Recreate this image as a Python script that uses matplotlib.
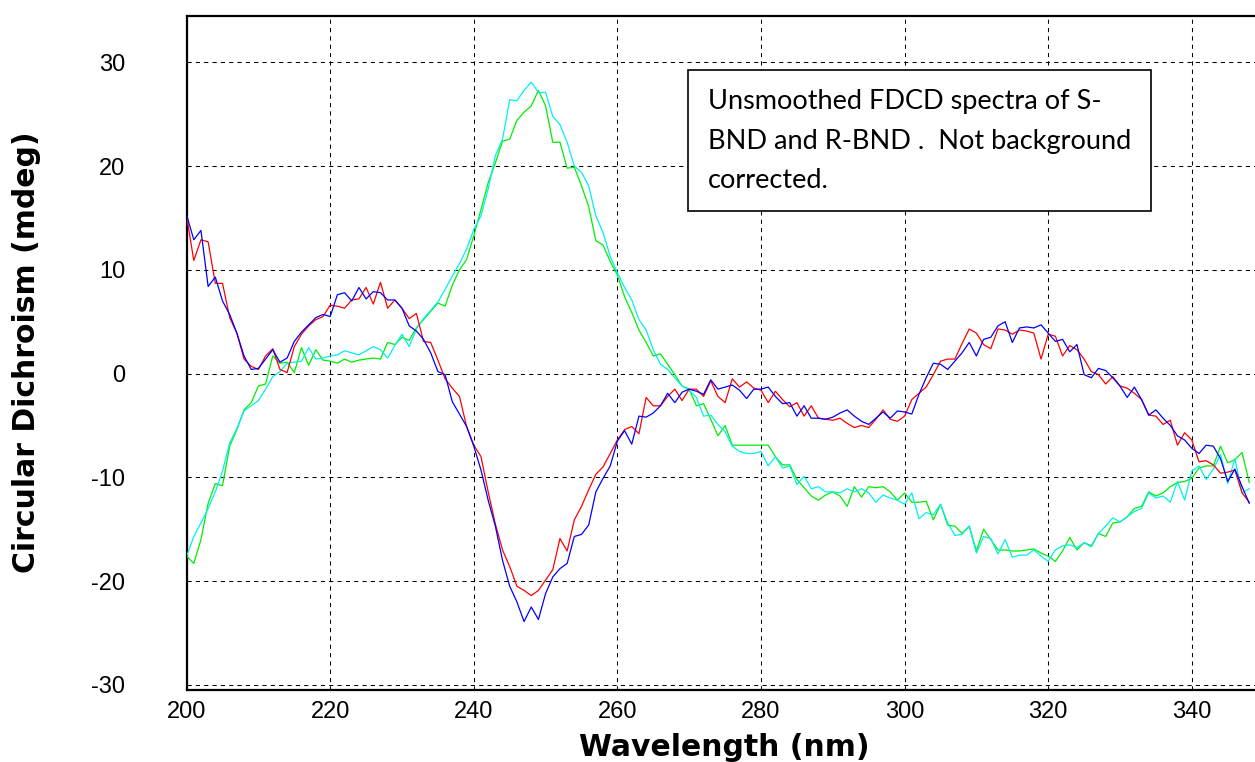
import numpy as np
import matplotlib
matplotlib.use("Agg")
import matplotlib.pyplot as plt
from matplotlib.patches import Rectangle

plt.rcParams["axes.unicode_minus"] = False

# Wavelength grid (nm), 1 nm steps
wavelength = np.arange(200, 349)

# FDCD spectra (mdeg)
red_cd = [
    15.2, 10.9, 12.9, 12.7, 8.7, 8.7, 5.4, 3.9, 1.4, 0.7,
    0.4, 1.7, 2.4, 0.4, 0.1, 2.6, 3.8, 4.6, 5.2, 5.5,
    6.6, 6.5, 6.3, 7.1, 7.2, 8.3, 6.7, 8.8, 6.3, 7.1,
    6.3, 5.3, 5.8, 3.1, 3.0, 1.3, -0.5, -1.4, -2.2, -5.1,
    -6.9, -8.0, -11.4, -14.5, -17.0, -18.6, -20.5, -20.9, -21.4, -20.9,
    -19.9, -18.9, -15.9, -17.1, -14.1, -12.8, -11.2, -9.7, -9.0, -7.7,
    -6.4, -5.4, -5.1, -5.8, -2.3, -3.1, -3.1, -2.2, -1.5, -2.6,
    -1.5, -1.5, -2.2, -0.7, -2.2, -2.8, -0.5, -1.3, -0.8, -1.4,
    -1.6, -2.8, -1.7, -2.5, -3.2, -2.8, -4.1, -3.1, -4.3, -4.4,
    -4.5, -4.3, -4.8, -5.2, -5.0, -5.2, -4.4, -3.5, -4.4, -4.6,
    -4.1, -2.5, -1.9, -1.3, -0.1, 1.2, 1.4, 1.4, 2.9, 4.3,
    3.9, 2.8, 2.4, 4.3, 4.2, 3.8, 4.2, 4.1, 3.9, 1.4,
    3.8, 3.6, 1.7, 2.7, 2.3, 1.4, 0.2, -0.1, -1.0, -0.3,
    -1.2, -1.4, -1.9, -2.5, -4.0, -4.1, -4.9, -4.5, -6.9, -5.7,
    -6.4, -8.5, -8.4, -8.8, -9.6, -9.5, -9.3, -11.5, -12.4,
]

blue_cd = [
    15.3, 12.9, 13.8, 8.4, 9.3, 7.0, 5.7, 3.9, 1.7, 0.4,
    0.5, 1.4, 2.3, 1.1, 1.5, 3.1, 4.0, 4.7, 5.4, 5.7,
    5.5, 7.6, 7.8, 7.0, 8.3, 7.2, 7.9, 7.8, 7.1, 7.1,
    6.3, 4.6, 4.1, 3.3, 2.0, 0.2, -0.1, -2.7, -3.9, -5.1,
    -7.0, -9.3, -12.2, -14.7, -18.0, -20.5, -22.0, -23.9, -22.5, -23.7,
    -21.2, -19.6, -18.8, -18.3, -15.7, -15.5, -14.6, -11.4, -10.1, -8.9,
    -6.5, -5.5, -6.8, -4.1, -4.2, -3.8, -3.1, -1.9, -2.8, -1.8,
    -1.5, -1.7, -2.0, -0.6, -1.5, -1.3, -1.1, -1.6, -2.4, -1.5,
    -1.5, -1.3, -2.2, -2.9, -2.8, -4.1, -3.1, -4.3, -4.3, -4.4,
    -4.2, -3.8, -3.5, -4.1, -4.6, -4.9, -4.3, -3.7, -4.3, -3.6,
    -3.7, -3.9, -2.0, -0.4, 1.0, 0.9, 0.4, 1.2, 2.0, 3.0,
    1.7, 3.3, 3.5, 4.6, 5.0, 3.0, 4.4, 4.5, 4.4, 4.7,
    3.9, 3.1, 3.3, 2.1, 2.8, -0.1, -0.4, 0.5, 0.3, -0.4,
    -1.2, -2.3, -1.3, -2.5, -4.0, -3.5, -4.3, -5.0, -6.0, -6.4,
    -7.2, -7.7, -6.9, -7.0, -8.2, -10.4, -9.2, -10.9, -12.5,
]

green_cd = [
    -17.6, -18.3, -16.0, -12.5, -10.6, -10.8, -7.0, -5.4, -3.5, -2.8,
    -1.2, -1.0, 1.7, 1.0, 1.1, 0.1, 2.5, 0.8, 2.3, 1.3,
    1.2, 1.0, 1.4, 1.1, 1.3, 1.4, 1.5, 1.4, 3.0, 2.8,
    3.5, 3.2, 4.4, 5.2, 6.0, 6.8, 6.5, 8.5, 10.0, 11.0,
    13.3, 15.8, 18.4, 20.3, 22.4, 22.6, 24.4, 25.2, 25.8, 27.3,
    25.8, 22.3, 22.3, 19.8, 19.9, 18.1, 16.1, 12.8, 12.4, 10.8,
    9.5, 7.4, 5.9, 4.2, 3.0, 1.7, 1.9, 0.9, -0.1, -1.2,
    -1.5, -3.1, -2.9, -4.4, -6.0, -5.0, -6.9, -6.9, -6.9, -6.9,
    -6.9, -6.9, -8.0, -8.8, -8.8, -10.2, -11.0, -11.8, -12.2, -11.7,
    -11.4, -11.8, -12.8, -10.9, -11.9, -10.9, -11.0, -10.9, -11.4, -12.2,
    -11.5, -12.4, -12.4, -12.3, -14.1, -12.6, -14.6, -14.7, -15.4, -14.7,
    -17.1, -15.0, -16.0, -17.0, -17.0, -17.1, -17.1, -17.0, -16.9, -17.3,
    -17.6, -18.1, -17.1, -15.8, -17.0, -16.3, -16.6, -15.4, -15.7, -14.4,
    -14.3, -13.8, -13.0, -12.8, -11.4, -11.8, -11.5, -10.9, -10.5, -10.4,
    -10.1, -9.1, -8.9, -8.9, -7.0, -8.6, -8.3, -7.6, -10.5,
]

cyan_cd = [
    -17.6, -15.7, -14.4, -13.0, -11.4, -9.4, -6.7, -5.3, -3.6, -3.1,
    -2.6, -1.5, -0.3, 0.2, 1.0, 1.1, 1.2, 2.5, 1.4, 1.5,
    1.7, 1.8, 2.2, 2.0, 1.8, 2.2, 2.6, 2.3, 1.5, 2.7,
    3.8, 2.6, 4.3, 5.3, 6.1, 6.9, 8.1, 9.4, 10.6, 12.0,
    13.9, 15.2, 17.8, 21.0, 22.6, 26.4, 26.3, 27.3, 28.1, 27.1,
    27.1, 24.8, 24.0, 22.3, 20.0, 19.4, 18.1, 15.2, 13.6, 11.3,
    9.7, 8.3, 7.1, 5.2, 4.2, 2.3, 0.9, 0.4, -0.4, -1.2,
    -1.6, -2.3, -4.1, -4.0, -4.9, -5.6, -7.0, -7.5, -7.7, -7.7,
    -7.5, -8.9, -8.0, -9.1, -8.9, -10.7, -9.9, -11.1, -10.9, -11.4,
    -11.4, -11.5, -11.1, -11.4, -11.1, -11.5, -12.4, -11.7, -12.0, -12.2,
    -12.6, -11.5, -14.0, -13.4, -13.6, -12.6, -14.4, -15.6, -15.5, -14.7,
    -17.3, -15.7, -15.9, -17.4, -16.0, -17.7, -17.5, -17.5, -17.0, -17.6,
    -18.1, -17.0, -16.6, -16.5, -16.8, -16.3, -16.7, -15.4, -14.7, -13.9,
    -14.3, -13.8, -13.3, -13.0, -11.5, -12.0, -11.8, -12.4, -10.4, -12.2,
    -9.4, -8.9, -10.2, -9.2, -7.8, -10.6, -8.2, -11.5, -11.1,
]

x_ticks = [200, 220, 240, 260, 280, 300, 320, 340]
y_ticks = [-30, -20, -10, 0, 10, 20, 30]

note_lines = [
    "Unsmoothed FDCD spectra of S-",
    "BND and R-BND .  Not background",
    "corrected.",
]

W, H = 1255, 762
fig = plt.figure(figsize=(W / 100, H / 100), dpi=100)
fig.patch.set_facecolor("white")

ax = fig.add_axes([186.6 / W, (H - 690) / H, (W - 186.6) / W, (690 - 15.7) / H])

series = [
    (green_cd, "#00ee00"),
    (cyan_cd, "#00f0f0"),
    (red_cd, "#ff0000"),
    (blue_cd, "#0000ff"),
]
for values, colour in series:
    ax.plot(wavelength, values, color=colour, lw=0.9, zorder=3)

ax.set_xlim(200, 348.8)
ax.set_ylim(-30.5, 34.5)
ax.set_xticks(x_ticks)
ax.set_yticks(y_ticks)
ax.grid(True, color="black", linestyle=(0, (4, 4)), linewidth=0.75, zorder=1)

for side in ("left", "top", "bottom"):
    ax.spines[side].set_linewidth(1.6)
    ax.spines[side].set_color("black")
ax.spines["right"].set_visible(False)

ax.tick_params(axis="both", length=0)
ax.tick_params(axis="y", pad=44)
ax.tick_params(axis="x", pad=8)
for lab in ax.get_xticklabels() + ax.get_yticklabels():
    lab.set_fontfamily("Liberation Sans")
    lab.set_fontsize(17)

# Axis titles
fig.text(27 / W, 1 - 352 / H, "Circular Dichroism (mdeg)", rotation=90,
         ha="center", va="center", family="DejaVu Sans", weight="bold",
         size=21.5)
fig.text(724 / W, 1 - 748 / H, "Wavelength (nm)", ha="center", va="center",
         family="DejaVu Sans", weight="bold", size=21.5)

# Annotation box
fig.add_artist(Rectangle((688 / W, 1 - 211 / H), (1151 - 688) / W,
                         (211 - 70) / H, transform=fig.transFigure,
                         facecolor="white", edgecolor="black", lw=1.2,
                         zorder=5))
for i, line in enumerate(note_lines):
    fig.text(708 / W, 1 - (101 + 40 * i) / H, line, ha="left", va="center",
             family="Lato", size=19.5, zorder=6)

fig.savefig("out.png", dpi=100)
